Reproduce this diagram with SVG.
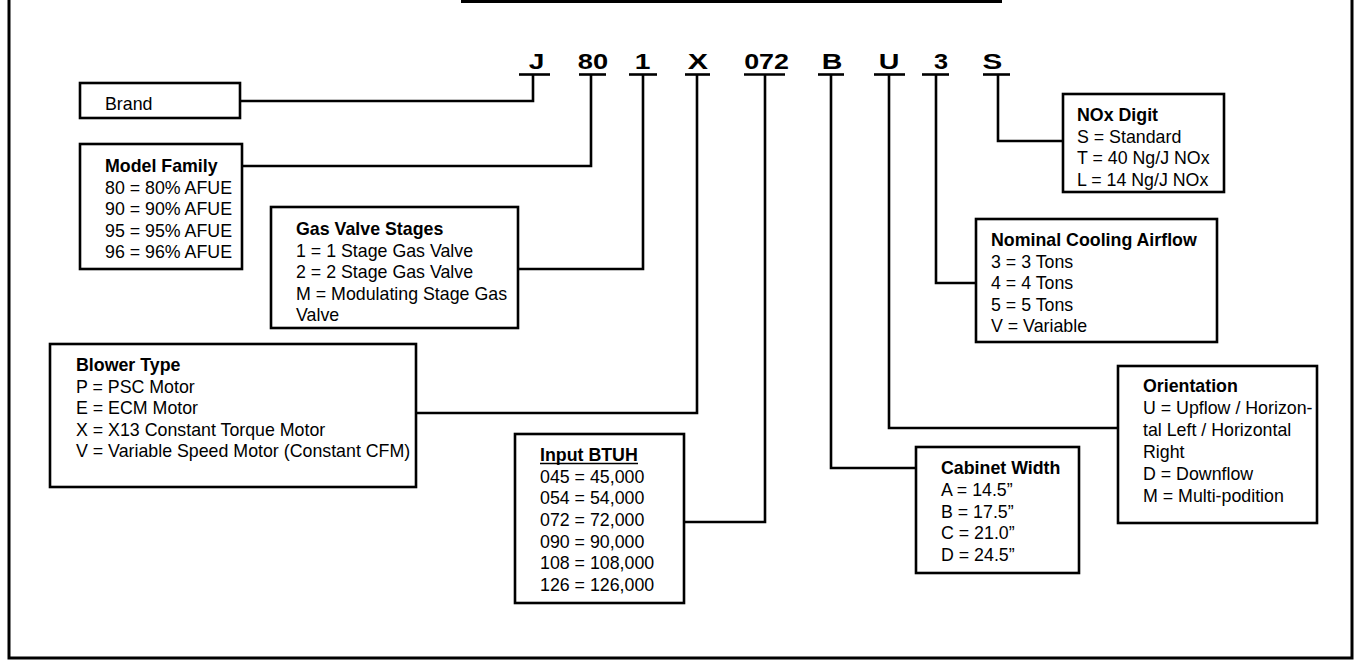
<svg xmlns="http://www.w3.org/2000/svg" width="1356" height="665" viewBox="0 0 1356 665">
<style>
  .frame { fill: none; stroke: #000; stroke-width: 3; }
  .box { fill: #fff; stroke: #000; stroke-width: 2.6; }
  .conn { fill: none; stroke: #000; stroke-width: 2.6; }
  .uline { stroke: #000; stroke-width: 2.6; }
  .t { font-family: "Liberation Sans", Arial, Helvetica, sans-serif; font-size: 17.8px; fill: #000; }
  .b { font-weight: bold; }
  .code { font-family: "Liberation Sans", Arial, Helvetica, sans-serif; font-size: 22px; font-weight: bold; fill: #000; text-anchor: middle; }
</style>
<rect x="0" y="0" width="1356" height="665" fill="#fff"/>

<g id="frame">
  <polyline class="frame" points="9,0 9,658 1352,658 1352,0"/>
  <line x1="461" y1="1.5" x2="1002" y2="1.5" stroke="#000" stroke-width="3"/>
</g>

<g id="code">
  <text class="code" transform="translate(536.5,69) scale(1.28,1)">J</text>
  <text class="code" transform="translate(593,69) scale(1.24,1)">80</text>
  <text class="code" transform="translate(642.5,69) scale(1.28,1)">1</text>
  <text class="code" transform="translate(698,69) scale(1.38,1)">X</text>
  <text class="code" transform="translate(766.5,69) scale(1.22,1)">072</text>
  <text class="code" transform="translate(832,69) scale(1.3,1)">B</text>
  <text class="code" transform="translate(889,69) scale(1.3,1)">U</text>
  <text class="code" transform="translate(941,69) scale(1.15,1)">3</text>
  <text class="code" transform="translate(992.5,69) scale(1.35,1)">S</text>
  <line class="uline" x1="519" y1="74.5" x2="550" y2="74.5"/>
  <line class="uline" x1="579" y1="74.5" x2="606" y2="74.5"/>
  <line class="uline" x1="629" y1="74.5" x2="657" y2="74.5"/>
  <line class="uline" x1="685" y1="74.5" x2="710" y2="74.5"/>
  <line class="uline" x1="744" y1="74.5" x2="785" y2="74.5"/>
  <line class="uline" x1="818" y1="74.5" x2="844" y2="74.5"/>
  <line class="uline" x1="874" y1="74.5" x2="905" y2="74.5"/>
  <line class="uline" x1="922" y1="74.5" x2="949" y2="74.5"/>
  <line class="uline" x1="983" y1="74.5" x2="1010" y2="74.5"/>
</g>

<g id="connectors">
  <polyline class="conn" points="533,74 533,101 240,101"/>
  <polyline class="conn" points="591,74 591,166 242,166"/>
  <polyline class="conn" points="643,74 643,269 518,269"/>
  <polyline class="conn" points="697,74 697,413 416,413"/>
  <polyline class="conn" points="765,74 765,522 684,522"/>
  <polyline class="conn" points="831,74 831,468 916,468"/>
  <polyline class="conn" points="889,74 889,428 1118,428"/>
  <polyline class="conn" points="936,74 936,283 976,283"/>
  <polyline class="conn" points="998,74 998,141 1063,141"/>
</g>

<g id="brand">
  <rect class="box" x="80" y="83" width="160" height="35"/>
  <text class="t" x="105" y="110">Brand</text>
</g>

<g id="model-family">
  <rect class="box" x="80" y="144" width="162" height="125"/>
  <text class="t b" x="105" y="172">Model Family</text>
  <text class="t" x="105" y="193.5">80 = 80% AFUE</text>
  <text class="t" x="105" y="215">90 = 90% AFUE</text>
  <text class="t" x="105" y="236.5">95 = 95% AFUE</text>
  <text class="t" x="105" y="258">96 = 96% AFUE</text>
</g>

<g id="gas-valve-stages">
  <rect class="box" x="271" y="207" width="247" height="121"/>
  <text class="t b" x="296" y="235">Gas Valve Stages</text>
  <text class="t" x="296" y="256.5">1 = 1 Stage Gas Valve</text>
  <text class="t" x="296" y="278">2 = 2 Stage Gas Valve</text>
  <text class="t" x="296" y="299.5">M = Modulating Stage Gas</text>
  <text class="t" x="296" y="321">Valve</text>
</g>

<g id="blower-type">
  <rect class="box" x="50" y="344" width="366" height="143"/>
  <text class="t b" x="76" y="371">Blower Type</text>
  <text class="t" x="76" y="392.5">P = PSC Motor</text>
  <text class="t" x="76" y="414">E = ECM Motor</text>
  <text class="t" x="76" y="435.5">X = X13 Constant Torque Motor</text>
  <text class="t" x="76" y="457">V = Variable Speed Motor (Constant CFM)</text>
</g>

<g id="input-btuh">
  <rect class="box" x="515" y="434" width="169" height="169"/>
  <text class="t b" x="540" y="461">Input BTUH</text>
  <line x1="540" y1="463.5" x2="638" y2="463.5" stroke="#000" stroke-width="1.5"/>
  <text class="t" x="540" y="482.7">045 = 45,000</text>
  <text class="t" x="540" y="504.3">054 = 54,000</text>
  <text class="t" x="540" y="525.9">072 = 72,000</text>
  <text class="t" x="540" y="547.5">090 = 90,000</text>
  <text class="t" x="540" y="569.1">108 = 108,000</text>
  <text class="t" x="540" y="590.7">126 = 126,000</text>
</g>

<g id="cabinet-width">
  <rect class="box" x="916" y="447" width="163" height="126"/>
  <text class="t b" x="941" y="474.3">Cabinet Width</text>
  <text class="t" x="941" y="496">A = 14.5”</text>
  <text class="t" x="941" y="517.5">B = 17.5”</text>
  <text class="t" x="941" y="539">C = 21.0”</text>
  <text class="t" x="941" y="560.5">D = 24.5”</text>
</g>

<g id="orientation">
  <rect class="box" x="1118" y="366" width="199" height="157"/>
  <text class="t b" x="1143" y="392.3">Orientation</text>
  <text class="t" x="1143" y="414.2">U = Upflow / Horizon-</text>
  <text class="t" x="1143" y="436">tal Left / Horizontal</text>
  <text class="t" x="1143" y="457.8">Right</text>
  <text class="t" x="1143" y="479.6">D = Downflow</text>
  <text class="t" x="1143" y="501.5">M = Multi-podition</text>
</g>

<g id="nominal-cooling-airflow">
  <rect class="box" x="976" y="219" width="241" height="123"/>
  <text class="t b" x="991" y="246">Nominal Cooling Airflow</text>
  <text class="t" x="991" y="267.5">3 = 3 Tons</text>
  <text class="t" x="991" y="289">4 = 4 Tons</text>
  <text class="t" x="991" y="310.5">5 = 5 Tons</text>
  <text class="t" x="991" y="332">V = Variable</text>
</g>

<g id="nox-digit">
  <rect class="box" x="1063" y="94" width="161" height="98"/>
  <text class="t b" x="1077" y="121">NOx Digit</text>
  <text class="t" x="1077" y="142.5">S = Standard</text>
  <text class="t" x="1077" y="164">T = 40 Ng/J NOx</text>
  <text class="t" x="1077" y="185.5">L = 14 Ng/J NOx</text>
</g>
</svg>
